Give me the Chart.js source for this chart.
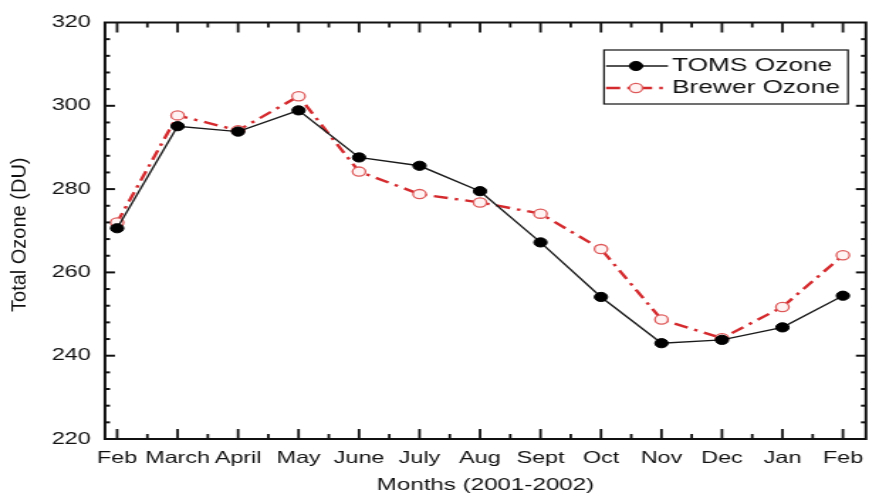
<!DOCTYPE html>
<html>
<head>
<meta charset="utf-8">
<script src="https://cdn.jsdelivr.net/npm/chart.js@4.4.1/dist/chart.umd.min.js"></script>
<style>
html, body { margin: 0; padding: 0; background: #fff; overflow: hidden; }
#wrap { width: 618px; height: 499px; transform: scaleX(1.42); transform-origin: 0 0; }
</style>
</head>
<body>
<div id="wrap"><canvas id="ozoneChart" width="618" height="499"></canvas></div>
<script>
var months = ['Feb', 'March', 'April', 'May', 'June', 'July', 'Aug', 'Sept', 'Oct', 'Nov', 'Dec', 'Jan', 'Feb'];
var tomsOzone = [270.6, 295.1, 293.8, 298.9, 287.6, 285.6, 279.5, 267.2, 254.1, 243.0, 243.8, 246.8, 254.4];
var brewerOzone = [272.0, 297.7, 294.1, 302.3, 284.2, 278.8, 276.8, 274.1, 265.6, 248.7, 244.2, 251.7, 264.1];
var yTicks = [220, 240, 260, 280, 300, 320];

// the original picture is stretched sideways, so the canvas is too
var S = 1.42;
var FONT = "'Liberation Sans', Arial, sans-serif";
var INK = '#111111';

function toPoints(values) {
    return values.map(function (v, i) { return { x: i, y: v }; });
}

function line(ctx, x1, y1, x2, y2) {
    ctx.beginPath();
    ctx.moveTo(x1, y1);
    ctx.lineTo(x2, y2);
    ctx.stroke();
}

// frame with inward ticks on all four sides
var framePlugin = {
    id: 'frame',
    afterDraw: function (chart) {
        var ctx = chart.ctx, a = chart.chartArea;
        var xs = chart.scales.x, ys = chart.scales.y;
        ctx.save();
        ctx.strokeStyle = INK;
        ctx.lineWidth = 2;
        ctx.strokeRect(a.left, a.top, a.right - a.left, a.bottom - a.top);
        ctx.lineWidth = 1.8;
        for (var i = 0; i <= months.length - 1; i += 0.5) {
            var px = xs.getPixelForValue(i);
            var len = (i % 1 === 0) ? 10 : 5;
            line(ctx, px, a.bottom, px, a.bottom - len);
            line(ctx, px, a.top, px, a.top + len);
        }
        ctx.lineWidth = 2;
        var y0 = yTicks[0], y1 = yTicks[yTicks.length - 1];
        for (var v = y0 + 4; v < y1; v += 4) {
            var py = ys.getPixelForValue(v);
            var l = ((v - y0) % 20 === 0) ? 10 / S : 5 / S;
            line(ctx, a.left, py, a.left + l, py);
            line(ctx, a.right, py, a.right - l, py);
        }
        ctx.restore();
    }
};

var yTitlePlugin = {
    id: 'yTitle',
    afterDraw: function (chart) {
        var ctx = chart.ctx, a = chart.chartArea;
        ctx.save();
        ctx.translate(20 / S, (a.top + a.bottom) / 2 + 4);
        ctx.scale(1 / S, 1);
        ctx.rotate(-Math.PI / 2);
        ctx.fillStyle = INK;
        ctx.font = '20px ' + FONT;
        ctx.textAlign = 'center';
        ctx.textBaseline = 'middle';
        ctx.fillText('Total Ozone (DU)', 0, 0);
        ctx.restore();
    }
};

var legendPlugin = {
    id: 'boxLegend',
    afterDraw: function (chart) {
        var ctx = chart.ctx;
        var left = 604 / S, top = 50, w = (848 - 604) / S, h = 54;
        ctx.save();
        ctx.strokeStyle = INK;
        ctx.lineWidth = 1.2;
        ctx.strokeRect(left, top, w, h);
        chart.data.datasets.forEach(function (d, i) {
            var cy = 66 + 22 * i;
            ctx.strokeStyle = d.borderColor;
            ctx.lineWidth = d.borderWidth;
            ctx.setLineDash(d.borderDash || []);
            line(ctx, 606 / S, cy, 668 / S, cy);
            ctx.setLineDash([]);
            ctx.beginPath();
            ctx.arc(636 / S, cy, d.pointRadius, 0, Math.PI * 2);
            ctx.fillStyle = d.pointBackgroundColor;
            ctx.fill();
            ctx.lineWidth = d.pointBorderWidth;
            ctx.strokeStyle = d.pointBorderColor;
            ctx.stroke();
            ctx.fillStyle = INK;
            ctx.font = '18.5px ' + FONT;
            ctx.textBaseline = 'middle';
            ctx.fillText(d.label, 672 / S, cy);
        });
        ctx.restore();
    }
};

new Chart(document.getElementById('ozoneChart'), {
    type: 'line',
    data: {
        datasets: [
            {
                label: 'TOMS Ozone',
                data: toPoints(tomsOzone),
                borderColor: '#1a1a1a',
                borderWidth: 1.4,
                pointRadius: 4.6,
                pointBackgroundColor: '#000000',
                pointBorderColor: '#000000',
                pointBorderWidth: 1
            },
            {
                label: 'Brewer Ozone',
                data: toPoints(brewerOzone),
                borderColor: '#d42a2e',
                borderWidth: 2.4,
                borderDash: [10, 5, 2.5, 5],
                pointRadius: 4.6,
                pointBackgroundColor: '#fff3f3',
                pointBorderColor: '#de5a5a',
                pointBorderWidth: 1.3
            }
        ]
    },
    options: {
        responsive: false,
        animation: false,
        devicePixelRatio: 1,
        layout: { padding: { top: 22.5, right: 3, left: 0, bottom: 0 } },
        plugins: {
            legend: { display: false },
            tooltip: { enabled: false }
        },
        scales: {
            x: {
                type: 'linear',
                min: -0.2,
                max: 12.38,
                afterBuildTicks: function (axis) {
                    axis.ticks = months.map(function (m, i) { return { value: i }; });
                },
                afterFit: function (s) { s.height = 60; },
                ticks: {
                    callback: function (v) { return months[v]; },
                    autoSkip: false,
                    maxRotation: 0,
                    padding: 10,
                    color: INK,
                    font: { family: FONT, size: 16.5 }
                },
                grid: { display: false, drawTicks: false },
                border: { display: false },
                title: {
                    display: true,
                    text: 'Months (2001-2002)',
                    color: INK,
                    font: { family: FONT, size: 17 },
                    padding: { top: 0, bottom: 3 }
                }
            },
            y: {
                min: yTicks[0],
                max: yTicks[yTicks.length - 1],
                afterBuildTicks: function (axis) {
                    axis.ticks = yTicks.map(function (v) { return { value: v }; });
                },
                afterFit: function (s) { s.width = 105 / S; },
                ticks: {
                    padding: 10,
                    color: INK,
                    font: { family: FONT, size: 16.5 }
                },
                grid: { display: false, drawTicks: false },
                border: { display: false }
            }
        }
    },
    plugins: [framePlugin, yTitlePlugin, legendPlugin]
});
</script>
</body>
</html>
